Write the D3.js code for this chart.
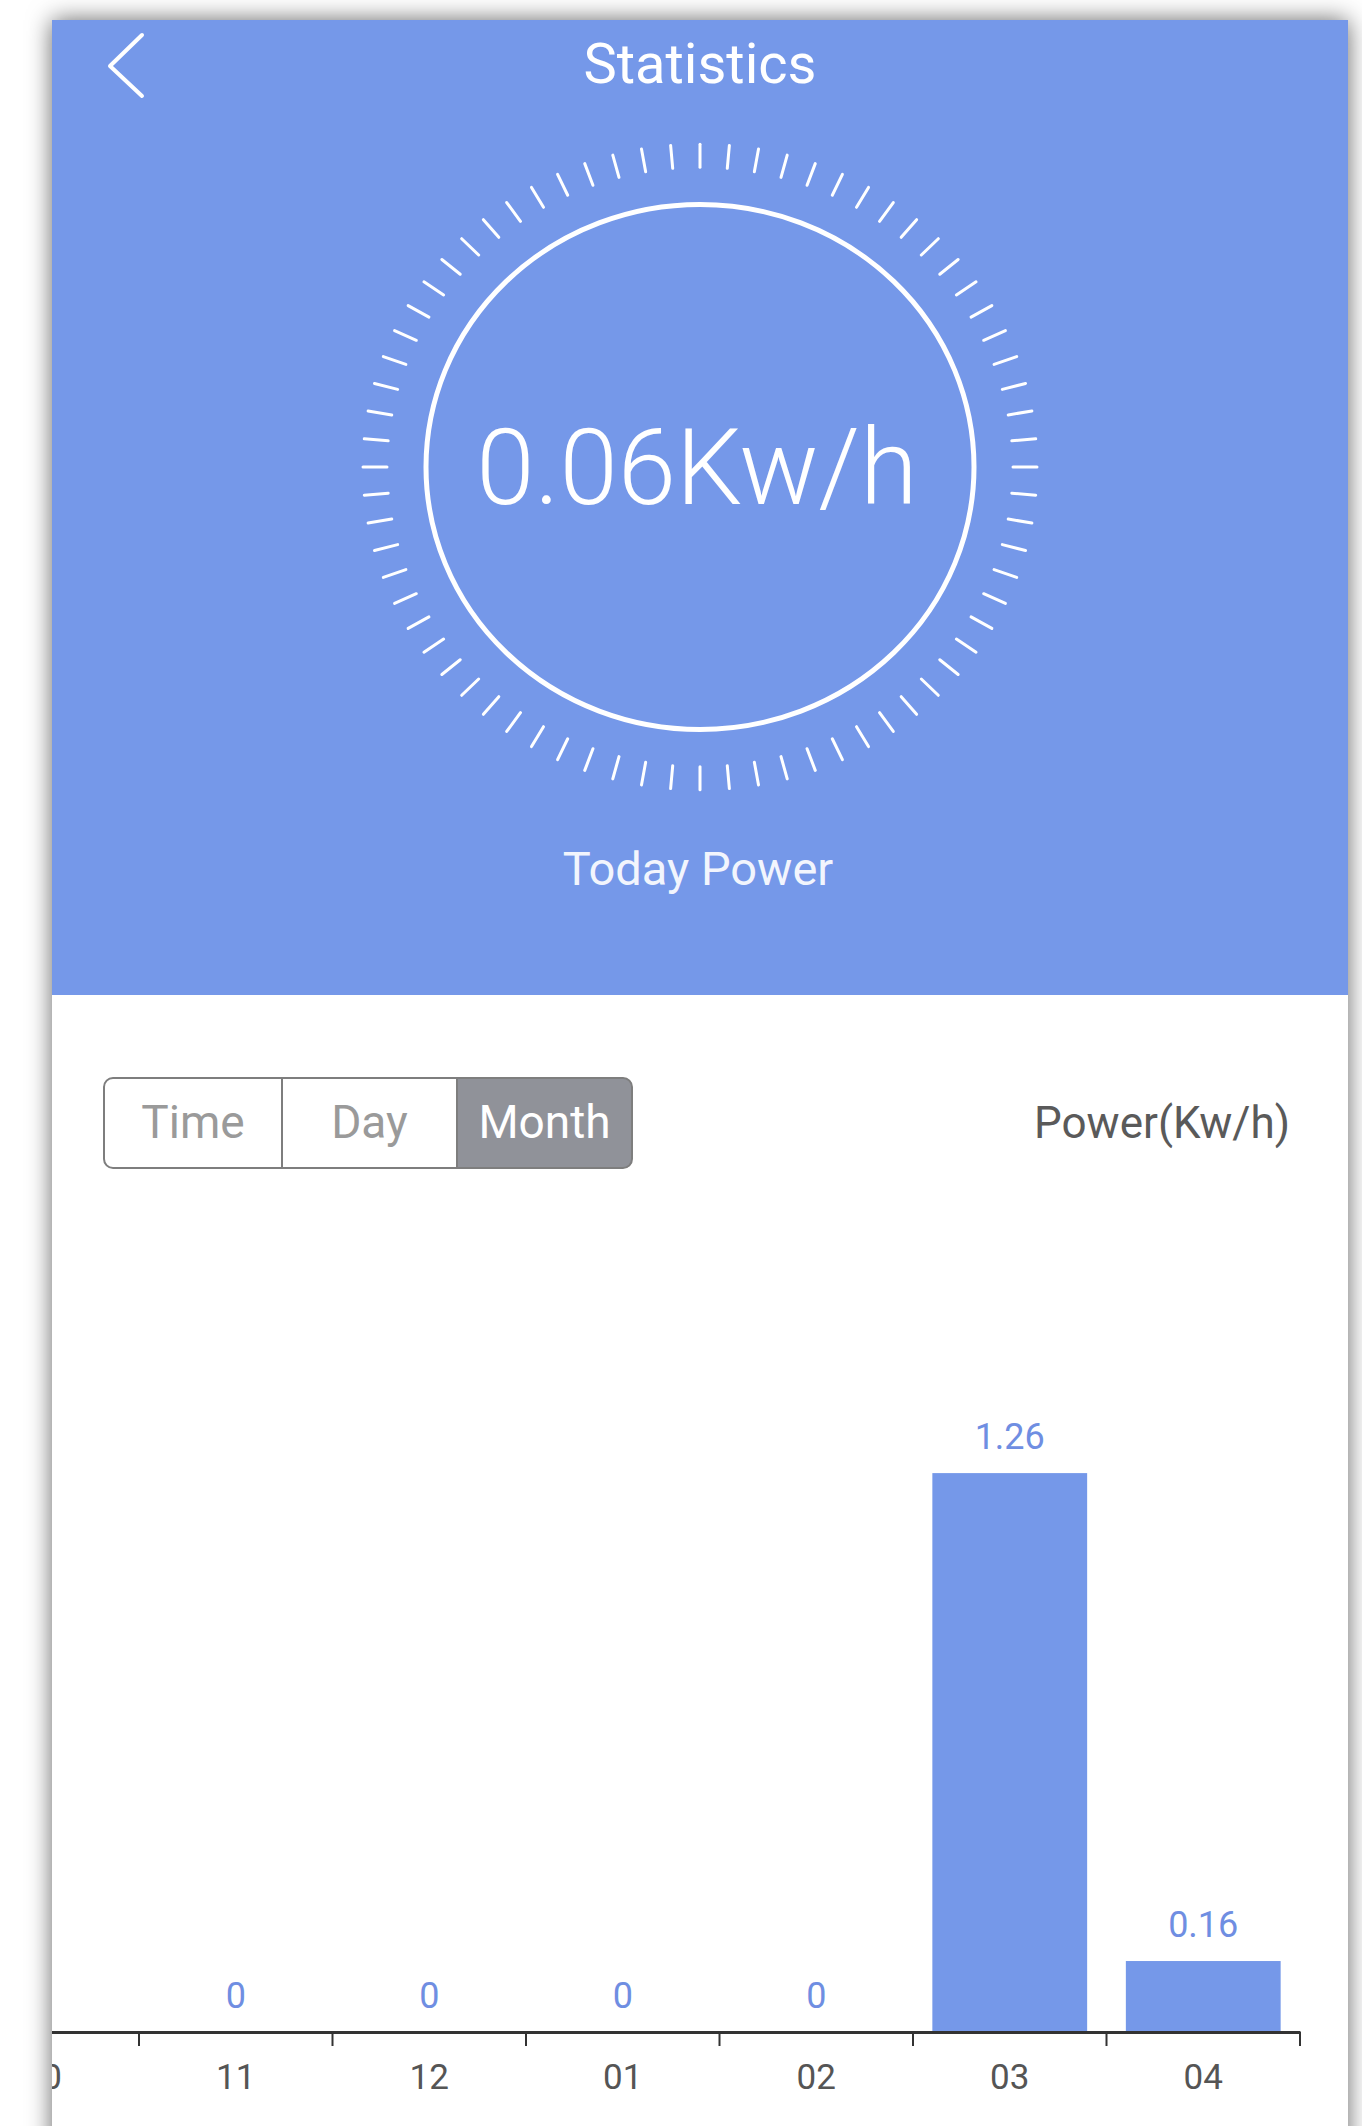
<!DOCTYPE html>
<html>
<head>
<meta charset="utf-8">
<script src="https://cdn.jsdelivr.net/npm/d3@7"></script>
<style>
  html, body { margin: 0; padding: 0; background: #fff; }
  svg { display: block; }
  text { font-family: Roboto, "Noto Sans", sans-serif; }
</style>
</head>
<body>
<svg id="app" width="1362" height="2126"></svg>
<script>
// month chart data
var months = ["10", "11", "12", "01", "02", "03", "04"];
var power = [0, 0, 0, 0, 0, 1.26, 0.16];

// header data
var todayPower = 0.06;
var dialTicks = d3.range(72);
var tabs = ["Time", "Day", "Month"];
var activeTab = "Month";

var blue = "#7598e9";

var svg = d3.select("#app"),
    phone = {left: 52, top: 20, width: 1296, height: 2200},
    headerH = 975;

var defs = svg.append("defs");
var shadow = defs.append("filter").attr("id", "shadow")
    .attr("x", "-10%").attr("y", "-10%").attr("width", "120%").attr("height", "120%");
shadow.append("feDropShadow")
    .attr("dx", 0).attr("dy", 0)
    .attr("stdDeviation", 12)
    .attr("flood-color", "#000")
    .attr("flood-opacity", 0.6);

defs.append("clipPath").attr("id", "phoneClip")
  .append("rect")
    .attr("x", phone.left).attr("y", phone.top)
    .attr("width", phone.width).attr("height", phone.height);

svg.append("rect")
    .attr("x", phone.left).attr("y", phone.top)
    .attr("width", phone.width).attr("height", phone.height)
    .attr("fill", "#fff")
    .attr("filter", "url(#shadow)");

var screen = svg.append("g").attr("clip-path", "url(#phoneClip)");

// header
screen.append("rect")
    .attr("x", phone.left).attr("y", phone.top)
    .attr("width", phone.width).attr("height", headerH)
    .attr("fill", blue);

screen.append("path")
    .attr("d", "M142,35 L110,66 L142,96")
    .attr("fill", "none")
    .attr("stroke", "#fff")
    .attr("stroke-width", 4)
    .attr("stroke-linecap", "round")
    .attr("stroke-linejoin", "round");

screen.append("text")
    .attr("x", 700).attr("y", 83)
    .attr("text-anchor", "middle")
    .attr("fill", "#fff")
    .attr("font-size", 56)
    .text("Statistics");

// dial
var cx = 700, cy = 467, squash = 0.958;
var dial = screen.append("g");

dial.append("ellipse")
    .attr("cx", cx).attr("cy", cy)
    .attr("rx", 274).attr("ry", 274 * squash)
    .attr("fill", "none")
    .attr("stroke", "#fff")
    .attr("stroke-width", 5);

var angle = d3.scaleLinear().domain([0, dialTicks.length]).range([0, 2 * Math.PI]);

dial.selectAll(".dtick")
    .data(dialTicks)
    .enter().append("line")
    .attr("class", "dtick")
    .attr("x1", function(d) { return cx + 313 * Math.cos(angle(d)); })
    .attr("y1", function(d) { return cy + 313 * squash * Math.sin(angle(d)); })
    .attr("x2", function(d) { return cx + 337 * Math.cos(angle(d)); })
    .attr("y2", function(d) { return cy + 337 * squash * Math.sin(angle(d)); })
    .attr("stroke", "#fff")
    .attr("stroke-width", 3)
    .attr("stroke-linecap", "round");

dial.append("text")
    .attr("x", 697).attr("y", 504)
    .attr("text-anchor", "middle")
    .attr("fill", "#fff")
    .attr("font-size", 105)
    .attr("font-weight", 300)
    .text(todayPower.toFixed(2) + "Kw/h");

screen.append("text")
    .attr("x", 698).attr("y", 885)
    .attr("text-anchor", "middle")
    .attr("fill", "#f2f5fd")
    .attr("font-size", 47)
    .text("Today Power");

// segmented control
var seg = {x: 104, y: 1078, w: 528, h: 90, r: 9};
var tabW = [178, 175, 175];
var tabStart = [104, 282, 457];

var ax = tabStart[2], aw = seg.x + seg.w - ax;
screen.append("path")
    .attr("d", "M" + ax + "," + seg.y +
        " H" + (ax + aw - seg.r) +
        " Q" + (ax + aw) + "," + seg.y + " " + (ax + aw) + "," + (seg.y + seg.r) +
        " V" + (seg.y + seg.h - seg.r) +
        " Q" + (ax + aw) + "," + (seg.y + seg.h) + " " + (ax + aw - seg.r) + "," + (seg.y + seg.h) +
        " H" + ax + " Z")
    .attr("fill", "#909299");

screen.append("rect")
    .attr("x", seg.x).attr("y", seg.y)
    .attr("width", seg.w).attr("height", seg.h)
    .attr("rx", seg.r)
    .attr("fill", "none")
    .attr("stroke", "#7e7e7e")
    .attr("stroke-width", 2);

screen.selectAll(".divider")
    .data(tabStart.slice(1))
    .enter().append("line")
    .attr("x1", function(d) { return d; }).attr("x2", function(d) { return d; })
    .attr("y1", seg.y).attr("y2", seg.y + seg.h)
    .attr("stroke", "#7e7e7e")
    .attr("stroke-width", 2);

screen.selectAll(".tab")
    .data(tabs)
    .enter().append("text")
    .attr("class", "tab")
    .attr("x", function(d, i) { return tabStart[i] + tabW[i] / 2; })
    .attr("y", 1138)
    .attr("text-anchor", "middle")
    .attr("font-size", 46)
    .attr("fill", function(d) { return d == activeTab ? "#fff" : "#9a9a9a"; })
    .text(function(d) { return d; });

screen.append("text")
    .attr("x", 1290).attr("y", 1138)
    .attr("text-anchor", "end")
    .attr("font-size", 44)
    .attr("fill", "#5a5a5a")
    .text("Power(Kw/h)");

// bar chart
var axisY = 2032;
var x = d3.scaleBand()
    .domain(months)
    .range([-54.5, 1300])
    .paddingInner(0.2)
    .paddingOuter(0.1);
var y = d3.scaleLinear().domain([0, 1.4]).range([axisY, axisY - 621]);

var chart = screen.append("g");

chart.selectAll(".bar")
    .data(months)
    .enter().append("rect")
    .attr("class", "bar")
    .attr("x", function(d) { return x(d); })
    .attr("width", x.bandwidth())
    .attr("y", function(d, i) { return y(power[i]); })
    .attr("height", function(d, i) { return axisY - y(power[i]); })
    .attr("fill", blue);

chart.selectAll(".val")
    .data(months)
    .enter().append("text")
    .attr("class", "val")
    .attr("x", function(d) { return x(d) + x.bandwidth() / 2; })
    .attr("y", function(d, i) { return y(power[i]) - 24; })
    .attr("text-anchor", "middle")
    .attr("font-size", 36)
    .attr("fill", "#6f8ee2")
    .text(function(d, i) { return power[i]; });

var xAxis = chart.append("g")
    .attr("transform", "translate(0," + axisY + ")")
    .call(d3.axisBottom(x).tickSize(0).tickSizeOuter(0).tickPadding(32));

xAxis.select(".domain")
    .attr("stroke", "#333")
    .attr("stroke-width", 3);
xAxis.selectAll("text")
    .attr("font-size", 35)
    .attr("font-family", "Roboto, sans-serif")
    .attr("fill", "#555");

// ticks sit on the band edges
var edges = months.map(function(d) { return x(d) - (x.step() - x.bandwidth()) / 2; });
edges.push(x.range()[1]);

xAxis.selectAll(".edge")
    .data(edges)
    .enter().append("line")
    .attr("class", "edge")
    .attr("x1", function(d) { return d; }).attr("x2", function(d) { return d; })
    .attr("y1", 0).attr("y2", 14)
    .attr("stroke", "#333")
    .attr("stroke-width", 2);
</script>
</body>
</html>
